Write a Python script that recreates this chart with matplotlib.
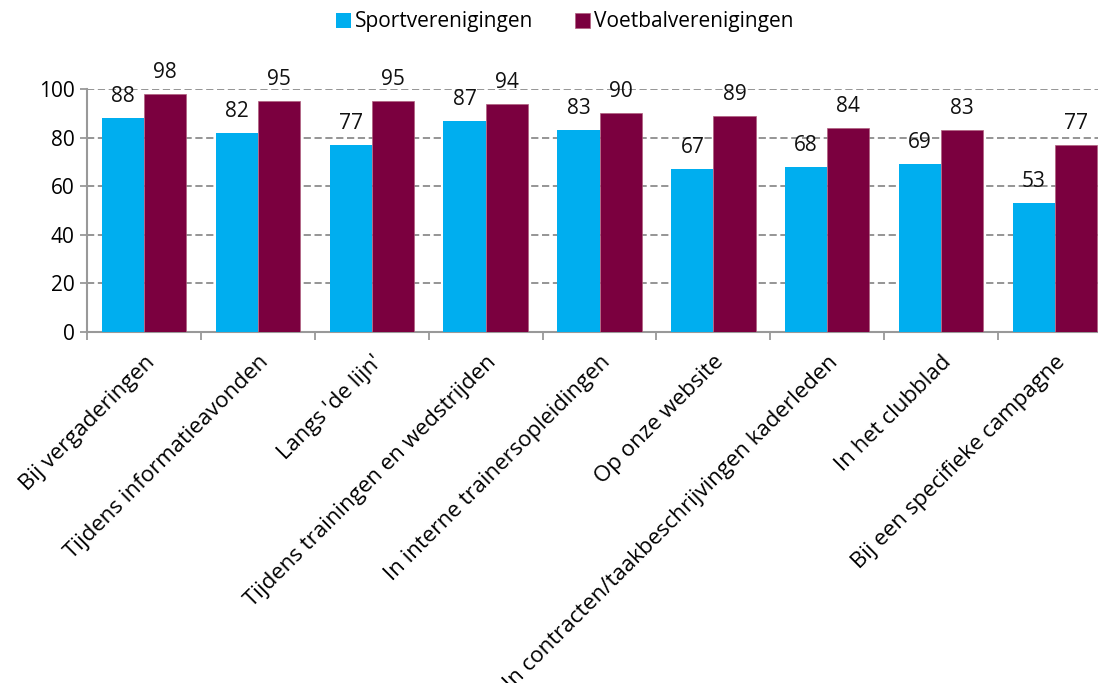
import matplotlib
matplotlib.use('Agg')
import matplotlib.pyplot as plt
import numpy as np

categories = ['Bij vergaderingen', 'Tijdens informatieavonden', "Langs 'de lijn'",
              'Tijdens trainingen en wedstrijden', 'In interne trainersopleidingen',
              'Op onze website', 'In contracten/taakbeschrijvingen kaderleden',
              'In het clubblad', 'Bij een specifieke campagne']
sport = [88, 82, 77, 87, 83, 67, 68, 69, 53]
voetbal = [98, 95, 95, 94, 90, 89, 84, 83, 77]
series_names = ['Sportverenigingen', 'Voetbalverenigingen']
yticks = [0, 20, 40, 60, 80, 100]

plt.rcParams['font.family'] = ['Open Sans', 'DejaVu Sans']

fig = plt.figure(figsize=(10.98, 6.83), dpi=100)
# plot area runs a bit past the right edge, like the cropped original
ax = fig.add_axes([87 / 1098, 1 - 332 / 683, 1025 / 1098, 243 / 683])

x = np.arange(len(categories))
w = 0.37
b1 = ax.bar(x - w / 2, sport, w, color='#00AEEF', label=series_names[0], zorder=3)
b2 = ax.bar(x + w / 2, voetbal, w, color='#7B003F', edgecolor='#b0607f', linewidth=0.5,
            label=series_names[1], zorder=3)

for bars in (b1, b2):
    for bar in bars:
        ax.annotate(f'{bar.get_height():.0f}', (bar.get_x() + bar.get_width() / 2, bar.get_height()),
                    xytext=(0, 11.5), textcoords='offset points', ha='center', va='baseline',
                    fontsize=15, color='#111111')

ax.set_xlim(-0.5, len(categories) - 0.5)
ax.set_ylim(0, 100)
ax.set_yticks(yticks)
ax.yaxis.grid(True, color='#8c8c8c', linestyle=(0, (4, 2)), linewidth=1.3, zorder=0)
ax.tick_params(axis='y', labelsize=15, length=5, width=1.3, color='#999999', pad=4)

ax.set_xticks(np.arange(len(categories) + 1) - 0.5)
ax.set_xticklabels([])
ax.tick_params(axis='x', length=6, width=1.3, color='#999999')
ax.set_xticks(x, minor=True)
ax.set_xticklabels(categories, minor=True, rotation=45, ha='right', va='top',
                   rotation_mode='anchor', fontsize=16)
ax.tick_params(axis='x', which='minor', length=0, pad=14)

for s in ['top', 'right']:
    ax.spines[s].set_visible(False)
for s in ['left', 'bottom']:
    ax.spines[s].set_color('#999999')
    ax.spines[s].set_linewidth(1.5)

fig.legend(loc='center', bbox_to_anchor=(565 / 1098, 1 - 22 / 683), ncol=2, frameon=False,
           fontsize=15, handlelength=0.7, handleheight=0.7, handletextpad=0.2,
           columnspacing=2.0)

fig.savefig('out.png', dpi=100, facecolor='white')
